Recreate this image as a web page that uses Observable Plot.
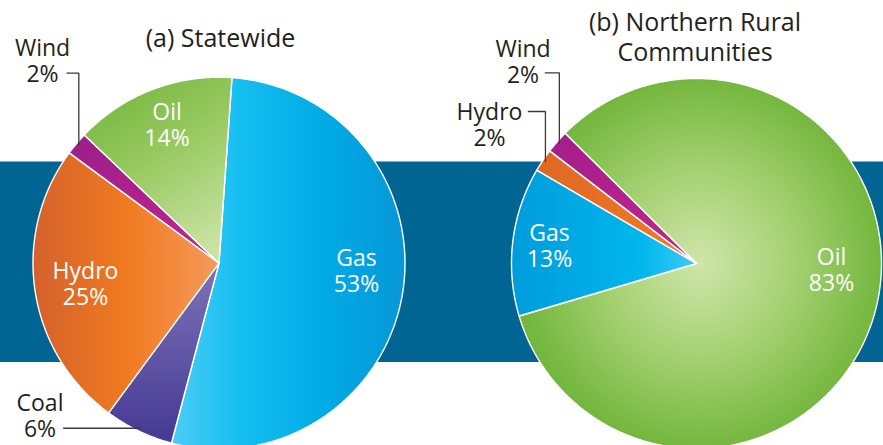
<!DOCTYPE html>
<html><head><meta charset="utf-8">
<script src="https://cdn.jsdelivr.net/npm/d3@7"></script>
<script src="https://cdn.jsdelivr.net/npm/@observablehq/plot@0.6"></script>
<style>
body{margin:0;background:#fff;overflow:hidden}
svg{display:block}
</style>
</head><body>
<svg width="0" height="0" style="position:absolute">
<defs>
  <linearGradient id="sw-Gas" x1="0" y1="0" x2="1" y2="0">
    <stop offset="0" stop-color="#4ccdf6"/><stop offset="0.3" stop-color="#14bef0"/>
    <stop offset="0.65" stop-color="#00abe6"/><stop offset="1" stop-color="#0797d8"/>
  </linearGradient>
  <linearGradient id="sw-Oil" x1="0.2" y1="0" x2="0.7" y2="1">
    <stop offset="0" stop-color="#74b63c"/><stop offset="0.45" stop-color="#97c960"/>
    <stop offset="1" stop-color="#c9e3a2"/>
  </linearGradient>
  <linearGradient id="sw-Hydro" x1="0" y1="0" x2="1" y2="0">
    <stop offset="0" stop-color="#d4612c"/><stop offset="0.5" stop-color="#f07a20"/>
    <stop offset="1" stop-color="#f59a5c"/>
  </linearGradient>
  <linearGradient id="sw-Coal" x1="0" y1="0" x2="0" y2="1">
    <stop offset="0" stop-color="#7c74b8"/><stop offset="1" stop-color="#463893"/>
  </linearGradient>
  <linearGradient id="sw-Wind" x1="0" y1="0" x2="1" y2="1">
    <stop offset="0" stop-color="#9a1f88"/><stop offset="1" stop-color="#c72490"/>
  </linearGradient>
  <radialGradient id="nr-Oil" cx="0.5" cy="0.5" r="0.5">
    <stop offset="0" stop-color="#cfe6aa"/><stop offset="0.5" stop-color="#a6d173"/>
    <stop offset="1" stop-color="#74b73e"/>
  </radialGradient>
  <linearGradient id="nr-Gas" x1="0" y1="0" x2="1" y2="0">
    <stop offset="0" stop-color="#009cdc"/><stop offset="0.7" stop-color="#00b6ed"/>
    <stop offset="1" stop-color="#40cbf5"/>
  </linearGradient>
  <linearGradient id="nr-Hydro" x1="0" y1="0" x2="1" y2="0">
    <stop offset="0" stop-color="#df6726"/><stop offset="1" stop-color="#f27d22"/>
  </linearGradient>
  <linearGradient id="nr-Wind" x1="0" y1="0" x2="1" y2="1">
    <stop offset="0" stop-color="#a11f8b"/><stop offset="1" stop-color="#c8238f"/>
  </linearGradient>
</defs>
</svg>
<div id="chart"></div>
<script>
// ---- data ----
const statewideSources = ["Gas", "Coal", "Hydro", "Wind", "Oil"];
const statewideShares  = [53, 6, 25, 2, 14];
const northernSources  = ["Oil", "Gas", "Hydro", "Wind"];
const northernShares   = [83, 13, 2, 2];
const pieTitles = ["(a) Statewide", "(b) Northern Rural\nCommunities"];

// ---- layout ----
const W = 883, H = 445;
const FONT = "'Open Sans', 'Noto Sans', sans-serif";
const band = [{x1: 0, x2: W, y1: 161.5, y2: 362}];
const pies = [
  {key: "sw", sources: statewideSources, shares: statewideShares, cx: 218.5, cy: 262.7, r: 186, start: 4,
   title: {x: 220, y: 46.7},
   inside: {Gas: [356, 291], Oil: [166.5, 145.7], Hydro: [85, 304]},
   outside: {Wind: {text: [42, 81.7], lead: [66, 72.7], type: "corner"},
             Coal: {text: [39.5, 436], lead: [62.7, 0], type: "flat"}}},
  {key: "nr", sources: northernSources, shares: northernShares, cx: 696, cy: 263, r: 185, start: 314.7,
   title: {x: 694.5, y: 60},
   inside: {Gas: [549, 266.7], Oil: [831, 290.7]},
   outside: {Wind: {text: [522.5, 82.3], lead: [544.3, 72.3], type: "corner"},
             Hydro: {text: [489, 145], lead: [527.3, 111], type: "corner"}}}
];

const rad = d => d * Math.PI / 180;
const polar = (p, a, r) => [p.cx + r * Math.sin(rad(a)), p.cy - r * Math.cos(rad(a))];

const slicePts = [];
const insideLabels = [];
const outsideLabels = [];
const leaders = [];
const titleRows = [];

pies.forEach((p, pi) => {
  const total = d3.sum(p.shares);
  let a = p.start;
  titleRows.push({x: p.title.x, y: p.title.y, text: pieTitles[pi]});
  p.sources.forEach((s, i) => {
    const span = p.shares[i] / total * 360;
    const a0 = a, a1 = a + span;
    const id = `${p.key}-${s}`;
    slicePts.push({id, fill: `url(#${id})`, x: p.cx, y: p.cy, k: 0});
    const n = Math.max(2, Math.ceil(span / 0.5));
    for (let j = 0; j <= n; j++) {
      const [x, y] = polar(p, a0 + span * j / n, p.r);
      slicePts.push({id, fill: `url(#${id})`, x, y, k: j + 1});
    }
    slicePts.push({id, fill: `url(#${id})`, x: p.cx, y: p.cy, k: n + 2});
    const label = `${s}\n${p.shares[i]}%`;
    if (p.inside[s]) {
      insideLabels.push({x: p.inside[s][0], y: p.inside[s][1], text: label});
    } else if (p.outside[s]) {
      const o = p.outside[s];
      outsideLabels.push({x: o.text[0], y: o.text[1], text: label});
      const [ex, ey] = polar(p, (a0 + a1) / 2, p.r - 3);
      const pts = o.type === "corner"
        ? [[o.lead[0], o.lead[1]], [ex, o.lead[1]], [ex, ey]]
        : [[o.lead[0], ey], [ex, ey]];
      pts.forEach(([x, y], k) => leaders.push({id: id, x, y, k}));
    }
    a = a1;
  });
});

const chart = Plot.plot({
  width: W, height: H,
  margin: 0,
  x: {domain: [0, W], axis: null},
  y: {domain: [0, H], reverse: true, axis: null},
  style: {background: "#fff", overflow: "hidden"},
  marks: [
    Plot.rect(band, {x1: "x1", x2: "x2", y1: "y1", y2: "y2", fill: "#006593"}),
    ...d3.groups(slicePts, d => d.id).map(([id, pts]) =>
      Plot.line(pts, {x: "x", y: "y", fill: pts[0].fill, stroke: "#fff", strokeWidth: 1.4,
                      strokeLinejoin: "miter", curve: "linear"})),
    ...d3.groups(leaders, d => d.id).map(([id, pts]) =>
      Plot.line(pts, {x: "x", y: "y", stroke: "#3a3a3a", strokeWidth: 1.3, strokeLinejoin: "miter",
                      strokeLinecap: "butt"})),
    Plot.text(titleRows, {x: "x", y: "y", text: "text", fontSize: 25, fontFamily: FONT, fill: "#231f20",
                          textAnchor: "middle", lineAnchor: "bottom", lineHeight: 1.17}),
    Plot.text(outsideLabels, {x: "x", y: "y", text: "text", fontSize: 23, fontFamily: FONT, fill: "#231f20",
                              textAnchor: "middle", lineAnchor: "bottom", lineHeight: 1.13}),
    Plot.text(insideLabels, {x: "x", y: "y", text: "text", fontSize: 23, fontFamily: FONT, fill: "#fff",
                             textAnchor: "middle", lineAnchor: "bottom", lineHeight: 1.13})
  ]
});
document.getElementById("chart").append(chart);
</script>
</body></html>
